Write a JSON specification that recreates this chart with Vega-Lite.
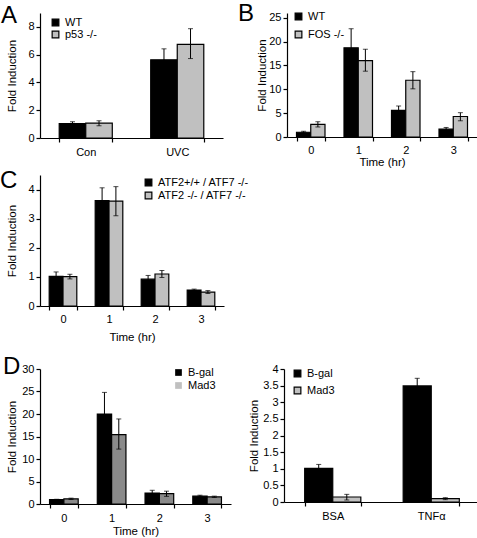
{
  "$schema": "https://vega.github.io/schema/vega-lite/v6.json",
  "padding": {"left": 0, "top": 2, "right": 0, "bottom": 0},
  "background": "white",
  "datasets": {
    "A": [
      {"cat": "Con", "group": "WT", "value": 1.03, "lo": 0.9, "hi": 1.17},
      {"cat": "Con", "group": "p53 -/-", "value": 1.07, "lo": 0.88, "hi": 1.24},
      {"cat": "UVC", "group": "WT", "value": 5.63, "lo": 4.85, "hi": 6.42},
      {"cat": "UVC", "group": "p53 -/-", "value": 6.74, "lo": 5.72, "hi": 7.87}
    ],
    "B": [
      {"time": "0", "group": "WT", "value": 1.0, "lo": 0.8, "hi": 1.2},
      {"time": "0", "group": "FOS -/-", "value": 2.65, "lo": 2.1, "hi": 3.2},
      {"time": "1", "group": "WT", "value": 18.7, "lo": 14.7, "hi": 22.7},
      {"time": "1", "group": "FOS -/-", "value": 16.0, "lo": 13.8, "hi": 18.4},
      {"time": "2", "group": "WT", "value": 5.6, "lo": 4.7, "hi": 6.5},
      {"time": "2", "group": "FOS -/-", "value": 11.9, "lo": 10.1, "hi": 13.7},
      {"time": "3", "group": "WT", "value": 1.65, "lo": 1.3, "hi": 2.0},
      {"time": "3", "group": "FOS -/-", "value": 4.3, "lo": 3.4, "hi": 5.1}
    ],
    "C": [
      {"time": "0", "group": "ATF2+/+ / ATF7 -/-", "value": 1.02, "lo": 0.88, "hi": 1.17},
      {"time": "0", "group": "ATF2 -/- /  ATF7 -/-", "value": 1.01, "lo": 0.93, "hi": 1.09},
      {"time": "1", "group": "ATF2+/+ / ATF7 -/-", "value": 3.62, "lo": 3.18, "hi": 4.06},
      {"time": "1", "group": "ATF2 -/- /  ATF7 -/-", "value": 3.6, "lo": 3.1, "hi": 4.1},
      {"time": "2", "group": "ATF2+/+ / ATF7 -/-", "value": 0.92, "lo": 0.8, "hi": 1.05},
      {"time": "2", "group": "ATF2 -/- /  ATF7 -/-", "value": 1.1, "lo": 0.98, "hi": 1.22},
      {"time": "3", "group": "ATF2+/+ / ATF7 -/-", "value": 0.55, "lo": 0.51, "hi": 0.58},
      {"time": "3", "group": "ATF2 -/- /  ATF7 -/-", "value": 0.48, "lo": 0.43, "hi": 0.53}
    ],
    "DL": [
      {"time": "0", "group": "B-gal", "value": 1.0, "lo": 0.95, "hi": 1.05},
      {"time": "0", "group": "Mad3", "value": 1.15, "lo": 1.0, "hi": 1.3},
      {"time": "1", "group": "B-gal", "value": 20.0, "lo": 15.2, "hi": 24.8},
      {"time": "1", "group": "Mad3", "value": 15.4, "lo": 12.2, "hi": 18.9},
      {"time": "2", "group": "B-gal", "value": 2.45, "lo": 1.9, "hi": 3.05},
      {"time": "2", "group": "Mad3", "value": 2.3, "lo": 1.7, "hi": 2.85},
      {"time": "3", "group": "B-gal", "value": 1.75, "lo": 1.55, "hi": 1.95},
      {"time": "3", "group": "Mad3", "value": 1.6, "lo": 1.45, "hi": 1.75}
    ],
    "DR": [
      {"cat": "BSA", "group": "B-gal", "value": 1.01, "lo": 0.88, "hi": 1.13},
      {"cat": "BSA", "group": "Mad3", "value": 0.15, "lo": 0.06, "hi": 0.23},
      {"cat": "TNFα", "group": "B-gal", "value": 3.49, "lo": 3.26, "hi": 3.72},
      {"cat": "TNFα", "group": "Mad3", "value": 0.1, "lo": 0.07, "hi": 0.13}
    ]
  },
  "config": {
    "font": "Liberation Sans",
    "view": {"stroke": null},
    "axis": {"domainColor": "#000", "tickColor": "#000", "labelColor": "#000", "titleColor": "#000", "labelFontSize": 11, "titleFontSize": 11.5, "titleFontWeight": "normal", "grid": false, "tickSize": 4, "domainWidth": 1.2, "tickWidth": 1.2, "labelPadding": 2, "labelOverlap": false, "labelFont": "Liberation Sans", "titleFont": "Liberation Sans"},
    "axisX": {"labelAngle": 0, "tickBand": "extent"},
    "legend": {"title": null, "symbolType": "square", "symbolSize": 45, "symbolStrokeWidth": 0, "labelFontSize": 11, "labelColor": "#000", "orient": "none", "rowPadding": 3, "labelOffset": 4, "labelFont": "Liberation Sans"},
    "title": {"fontSize": 24, "fontWeight": "normal", "anchor": "start", "frame": "group", "color": "#000", "font": "Liberation Sans"},
    "bar": {"stroke": "#000", "strokeWidth": 1.2}
  },
  "spacing": 12,
  "resolve": {"scale": {"color": "independent", "fill": "independent", "xOffset": "independent", "x": "independent", "y": "independent"}, "legend": {"color": "independent", "fill": "independent"}},
  "vconcat": [
    {
      "spacing": 1,
      "resolve": {"scale": {"color": "independent", "fill": "independent", "xOffset": "independent", "x": "independent", "y": "independent"}, "legend": {"color": "independent", "fill": "independent"}},
      "vconcat": [
        {
          "bounds": "flush",
          "spacing": 64,
          "resolve": {"scale": {"color": "independent", "fill": "independent", "xOffset": "independent", "x": "independent", "y": "independent"}, "legend": {"color": "independent", "fill": "independent"}},
          "hconcat": [
            {
              "width": 183, "height": 125,
              "title": {"text": "A", "dx": -39, "offset": -15},
              "data": {"name": "A"},
              "encoding": {
                "x": {"field": "cat", "type": "nominal", "sort": null, "title": null, "scale": {"paddingInner": 0.42, "paddingOuter": 0.21}, "axis": {"labelPadding": 4}},
                "xOffset": {"field": "group", "type": "nominal", "sort": null}
              },
              "layer": [
                {"mark": "bar", "encoding": {
                  "y": {"field": "value", "type": "quantitative", "title": "Fold Induction", "scale": {"domain": [0, 9]}, "axis": {"values": [0, 2, 4, 6, 8], "titlePadding": 10}},
                  "color": {"field": "group", "type": "nominal", "sort": null, "scale": {"range": ["#000000", "#c0c0c0"]}, "legend": {"legendX": 10, "legendY": 4, "rowPadding": -2}}}},
                {"mark": {"type": "rule", "color": "#000", "strokeWidth": 1}, "encoding": {"y": {"field": "lo", "type": "quantitative", "title": "Fold Induction", "axis": {"values": [0, 2, 4, 6, 8], "titlePadding": 10}}, "y2": {"field": "hi"}}},
                {"mark": {"type": "tick", "color": "#000", "size": 5, "thickness": 1}, "encoding": {"y": {"field": "lo", "type": "quantitative", "title": "Fold Induction", "axis": {"values": [0, 2, 4, 6, 8], "titlePadding": 10}}}},
                {"mark": {"type": "tick", "color": "#000", "size": 5, "thickness": 1}, "encoding": {"y": {"field": "hi", "type": "quantitative", "title": "Fold Induction", "axis": {"values": [0, 2, 4, 6, 8], "titlePadding": 10}}}}
              ]
            },
            {
              "width": 190, "height": 124,
              "title": {"text": "B", "dx": -49, "offset": -15},
              "data": {"name": "B"},
              "encoding": {
                "x": {"field": "time", "type": "nominal", "sort": null, "title": "Time (hr)", "scale": {"paddingInner": 0.4, "paddingOuter": 0.2}, "axis": {"labelPadding": 3, "titlePadding": 1}},
                "xOffset": {"field": "group", "type": "nominal", "sort": null}
              },
              "layer": [
                {"mark": "bar", "encoding": {
                  "y": {"field": "value", "type": "quantitative", "title": "Fold Induction", "scale": {"domain": [0, 25]}, "axis": {"values": [0, 5, 10, 15, 20, 25], "titlePadding": 1}},
                  "color": {"field": "group", "type": "nominal", "sort": null, "scale": {"range": ["#000000", "#c0c0c0"]}, "legend": {"legendX": 6, "legendY": -2, "rowPadding": 5}}}},
                {"mark": {"type": "rule", "color": "#000", "strokeWidth": 1}, "encoding": {"y": {"field": "lo", "type": "quantitative", "title": "Fold Induction", "axis": {"values": [0, 5, 10, 15, 20, 25], "titlePadding": 1}}, "y2": {"field": "hi"}}},
                {"mark": {"type": "tick", "color": "#000", "size": 5, "thickness": 1}, "encoding": {"y": {"field": "lo", "type": "quantitative", "title": "Fold Induction", "axis": {"values": [0, 5, 10, 15, 20, 25], "titlePadding": 1}}}},
                {"mark": {"type": "tick", "color": "#000", "size": 5, "thickness": 1}, "encoding": {"y": {"field": "hi", "type": "quantitative", "title": "Fold Induction", "axis": {"values": [0, 5, 10, 15, 20, 25], "titlePadding": 1}}}}
              ]
            }
          ]
        },
        {
          "width": 184, "height": 131,
          "title": {"text": "C", "dx": -40, "offset": -18},
          "data": {"name": "C"},
          "encoding": {
            "x": {"field": "time", "type": "nominal", "sort": null, "title": "Time (hr)", "scale": {"paddingInner": 0.4, "paddingOuter": 0.2}, "axis": {"labelPadding": 3, "titlePadding": 7}},
            "xOffset": {"field": "group", "type": "nominal", "sort": null}
          },
          "layer": [
            {"mark": "bar", "encoding": {
              "y": {"field": "value", "type": "quantitative", "title": "Fold Induction", "scale": {"domain": [0, 4.5]}, "axis": {"values": [0, 1, 2, 3, 4], "titlePadding": 10}},
              "color": {"field": "group", "type": "nominal", "sort": null, "scale": {"range": ["#000000", "#c0c0c0"]}, "legend": {"legendX": 103, "legendY": 2, "rowPadding": 0}}}},
            {"mark": {"type": "rule", "color": "#000", "strokeWidth": 1}, "encoding": {"y": {"field": "lo", "type": "quantitative", "title": "Fold Induction", "axis": {"values": [0, 1, 2, 3, 4], "titlePadding": 10}}, "y2": {"field": "hi"}}},
            {"mark": {"type": "tick", "color": "#000", "size": 5, "thickness": 1}, "encoding": {"y": {"field": "lo", "type": "quantitative", "title": "Fold Induction", "axis": {"values": [0, 1, 2, 3, 4], "titlePadding": 10}}}},
            {"mark": {"type": "tick", "color": "#000", "size": 5, "thickness": 1}, "encoding": {"y": {"field": "hi", "type": "quantitative", "title": "Fold Induction", "axis": {"values": [0, 1, 2, 3, 4], "titlePadding": 10}}}}
          ]
        }
      ]
    },
    {
      "bounds": "flush",
      "spacing": 53,
      "resolve": {"scale": {"color": "independent", "fill": "independent", "xOffset": "independent", "x": "independent", "y": "independent"}, "legend": {"color": "independent", "fill": "independent"}},
      "hconcat": [
        {
          "width": 191, "height": 135,
          "title": {"text": "D", "dx": -37, "offset": -16},
          "data": {"name": "DL"},
          "encoding": {
            "x": {"field": "time", "type": "nominal", "sort": null, "title": "Time (hr)", "scale": {"paddingInner": 0.4, "paddingOuter": 0.2}, "axis": {"labelPadding": 4, "titlePadding": 2}},
            "xOffset": {"field": "group", "type": "nominal", "sort": null}
          },
          "layer": [
            {"mark": "bar", "encoding": {
              "y": {"field": "value", "type": "quantitative", "title": "Fold Induction", "scale": {"domain": [0, 30]}, "axis": {"values": [0, 5, 10, 15, 20, 25, 30], "titlePadding": 4}},
              "fill": {"field": "group", "type": "nominal", "sort": null, "scale": {"range": ["#000000", "#8a8a8a"]}, "legend": null}}},
            {"mark": {"type": "square", "opacity": 0}, "encoding": {
              "y": {"field": "value", "type": "quantitative", "title": "Fold Induction", "axis": {"values": [0, 5, 10, 15, 20, 25, 30], "titlePadding": 4}},
              "color": {"field": "group", "type": "nominal", "sort": null, "scale": {"range": ["#000000", "#c0c0c0"]}, "legend": {"legendX": 133, "legendY": -2, "rowPadding": 1, "symbolOpacity": 1}}}},
            {"mark": {"type": "rule", "color": "#000", "strokeWidth": 1}, "encoding": {"y": {"field": "lo", "type": "quantitative", "title": "Fold Induction", "axis": {"values": [0, 5, 10, 15, 20, 25, 30], "titlePadding": 4}}, "y2": {"field": "hi"}}},
            {"mark": {"type": "tick", "color": "#000", "size": 5, "thickness": 1}, "encoding": {"y": {"field": "lo", "type": "quantitative", "title": "Fold Induction", "axis": {"values": [0, 5, 10, 15, 20, 25, 30], "titlePadding": 4}}}},
            {"mark": {"type": "tick", "color": "#000", "size": 5, "thickness": 1}, "encoding": {"y": {"field": "hi", "type": "quantitative", "title": "Fold Induction", "axis": {"values": [0, 5, 10, 15, 20, 25, 30], "titlePadding": 4}}}}
          ]
        },
        {
          "width": 196, "height": 133,
          "data": {"name": "DR"},
          "encoding": {
            "x": {"field": "cat", "type": "nominal", "sort": null, "title": null, "scale": {"paddingInner": 0.43, "paddingOuter": 0.21}, "axis": {"labelPadding": 4}},
            "xOffset": {"field": "group", "type": "nominal", "sort": null}
          },
          "layer": [
            {"mark": "bar", "encoding": {
              "y": {"field": "value", "type": "quantitative", "title": "Fold Induction", "scale": {"domain": [0, 4]}, "axis": {"values": [0, 0.5, 1, 1.5, 2, 2.5, 3, 3.5, 4], "format": "~g", "titlePadding": 3}},
              "color": {"field": "group", "type": "nominal", "sort": null, "scale": {"range": ["#000000", "#c0c0c0"]}, "legend": {"legendX": 8, "legendY": -1, "rowPadding": 4}}}},
            {"mark": {"type": "rule", "color": "#000", "strokeWidth": 1}, "encoding": {"y": {"field": "lo", "type": "quantitative", "title": "Fold Induction", "axis": {"values": [0, 0.5, 1, 1.5, 2, 2.5, 3, 3.5, 4], "format": "~g", "titlePadding": 3}}, "y2": {"field": "hi"}}},
            {"mark": {"type": "tick", "color": "#000", "size": 5, "thickness": 1}, "encoding": {"y": {"field": "lo", "type": "quantitative", "title": "Fold Induction", "axis": {"values": [0, 0.5, 1, 1.5, 2, 2.5, 3, 3.5, 4], "format": "~g", "titlePadding": 3}}}},
            {"mark": {"type": "tick", "color": "#000", "size": 5, "thickness": 1}, "encoding": {"y": {"field": "hi", "type": "quantitative", "title": "Fold Induction", "axis": {"values": [0, 0.5, 1, 1.5, 2, 2.5, 3, 3.5, 4], "format": "~g", "titlePadding": 3}}}}
          ]
        }
      ]
    }
  ]
}
